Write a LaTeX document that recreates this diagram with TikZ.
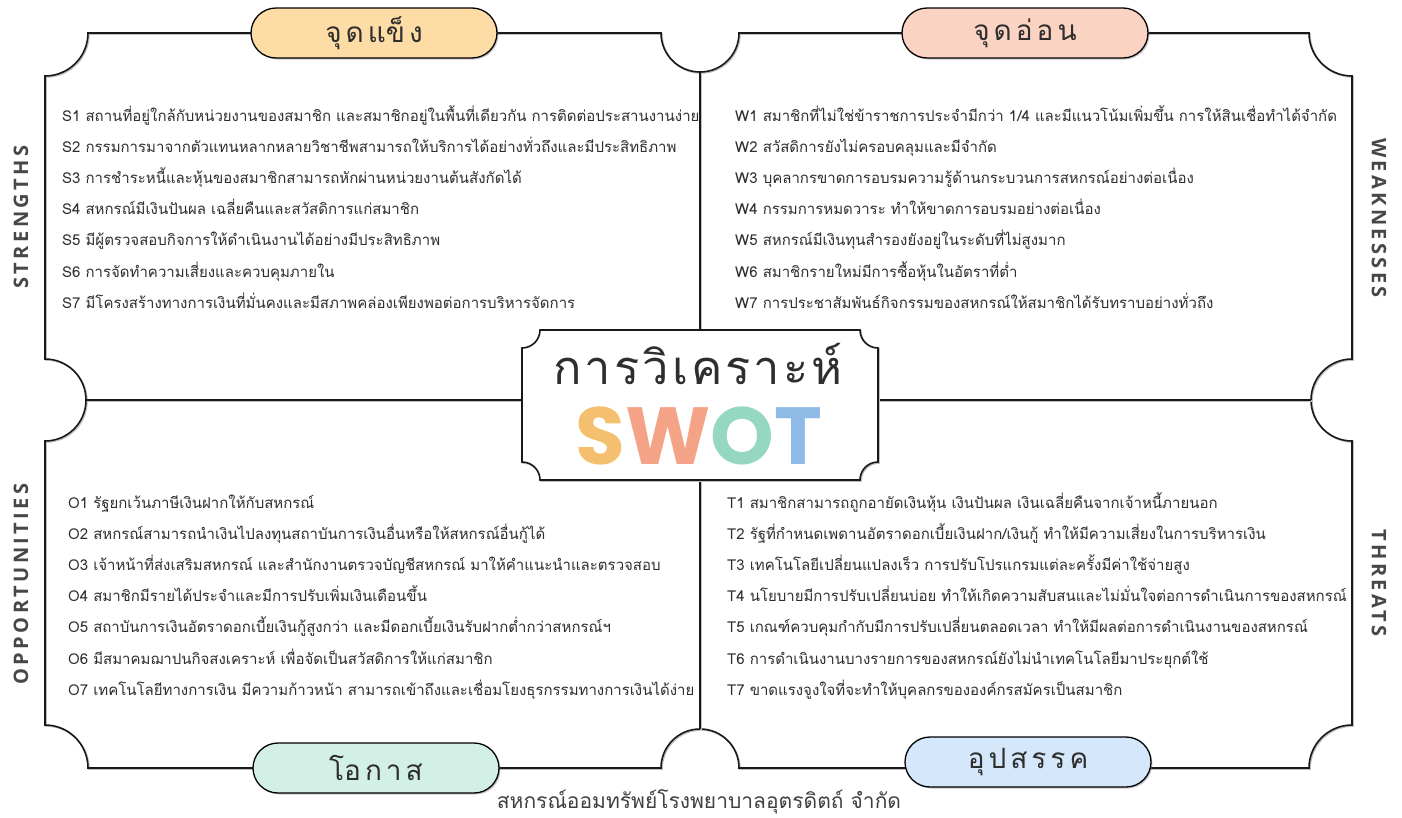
\documentclass[tikz,border=0pt]{standalone}
\usepackage{fontspec}
\setmainfont{Open Sans}
\newfontfamily\thaifont[Script=Thai]{Loma}
\newfontfamily\sidefont[LetterSpace=17]{Open Sans}
\newfontfamily\swotfont{Poppins}
\usetikzlibrary{shadows}
\definecolor{inkgray}{HTML}{2E2E2E}
\definecolor{swotS}{HTML}{F4C070}
\definecolor{swotW}{HTML}{F5A386}
\definecolor{swotO}{HTML}{96D7C2}
\definecolor{swotT}{HTML}{8DBBE5}
\definecolor{pillS}{HTML}{FDDCA6}
\definecolor{pillW}{HTML}{FBD3C3}
\definecolor{pillO}{HTML}{D2F0E5}
\definecolor{pillT}{HTML}{D4E7FB}
\newcommand\gap{\hskip 4pt}
\newcommand\titlegap{\hskip 3pt}
\tikzset{
  frameline/.style={line width=1.6pt, draw=black!90,
    preaction={draw=black!25, line width=1.6pt, transform canvas={shift={(1,1)}}}},
  pill/.style={rounded corners=25pt, draw=black, line width=1.3pt,
    minimum width=246pt, minimum height=50pt,
    drop shadow={opacity=0.45, shadow xshift=1.5pt, shadow yshift=-1.5pt},
    font=\thaifont\fontsize{28}{32}\selectfont, text=inkgray},
  sidelabel/.style={font=\sidefont\bfseries\fontsize{20}{24}\selectfont, text=black!72},
  item/.style={anchor=base west, font=\thaifont\fontsize{15}{18}\selectfont,
    text=inkgray, inner sep=0pt},
  swot/.style={font=\swotfont\bfseries\fontsize{81}{88}\selectfont, inner sep=0pt},
}
\begin{document}
\begin{tikzpicture}[x=1pt, y=-1pt]
  \useasboundingbox (0,0) rectangle (1402,817);
  % Frame
  \draw[frameline] (88,33) -- (661,33)
    arc[start angle=180, end angle=0, radius=39] -- (1309,33)
    arc[start angle=180, end angle=90, radius=43] -- (1352,359)
    arc[start angle=270, end angle=90, radius=41] -- (1352,725)
    arc[start angle=270, end angle=180, radius=43] -- (739,768)
    arc[start angle=0, end angle=-180, radius=39] -- (88,768)
    arc[start angle=0, end angle=-90, radius=43] -- (45,441)
    arc[start angle=90, end angle=-90, radius=41] -- (45,76)
    arc[start angle=90, end angle=0, radius=43] -- cycle;
  \coordinate (ntop) at (700,72);
  \coordinate (nbot) at (700,729);
  \coordinate (nleft) at (86,400);
  \coordinate (nright) at (1311,400);
  % Centre box
  \node (core) [inner sep=0pt, minimum width=356pt, minimum height=150pt] at (700,405) {};
  \draw[frameline] (ntop) -- (core.north);
  \draw[frameline] (core.south) -- (nbot);
  \draw[frameline] (nleft) -- (core.west |- nleft);
  \draw[frameline] (core.east |- nright) -- (nright);
  \draw[frameline, fill=white] (540,330) -- (860,330)
    arc[start angle=180, end angle=90, radius=18] -- (878,462)
    arc[start angle=270, end angle=180, radius=18] -- (540,480)
    arc[start angle=0, end angle=-90, radius=18] -- (522,348)
    arc[start angle=90, end angle=0, radius=18] -- cycle;
  \node (title) [font=\thaifont\fontsize{47}{52}\selectfont, text=inkgray] at (698,364)
    {ก\titlegap า\titlegap ร\titlegap วิ\titlegap เ\titlegap ค\titlegap ร\titlegap า\titlegap ะ\titlegap ห์};
  \node (swot) [swot] at (699,436)
    {\textcolor{swotS}{S}\textcolor{swotW}{W}\textcolor{swotO}{O}\textcolor{swotT}{T}};
  % Headers
  \node (hS) [pill, fill=pillS] at (374,33) {จุ\gap ด\gap แข็\gap ง};
  \node (hW) [pill, fill=pillW] at (1025,33) {จุ\gap ด\gap อ่\gap อ\gap น};
  \node (hO) [pill, fill=pillO] at (376,768) {โอ\gap ก\gap า\gap ส};
  \node (hT) [pill, fill=pillT] at (1028,762) {อุ\gap ป\gap ส\gap ร\gap ร\gap ค};
  % Side labels
  \node (lS) [sidelabel, rotate=90] at (21,217) {STRENGTHS};
  \node (lO) [sidelabel, rotate=90] at (21,584) {OPPORTUNITIES};
  \node (lW) [sidelabel, rotate=-90] at (1379,218) {WEAKNESSES};
  \node (lT) [sidelabel, rotate=-90] at (1379,583) {THREATS};
  % Items
  \foreach \t [count=\i] in {
    {S1 สถานที่อยู่ใกล้กับหน่วยงานของสมาชิก และสมาชิกอยู่ในพื้นที่เดียวกัน การติดต่อประสานงานง่าย},
    {S2 กรรมการมาจากตัวแทนหลากหลายวิชาชีพสามารถให้บริการได้อย่างทั่วถึงและมีประสิทธิภาพ},
    {S3 การชำระหนี้และหุ้นของสมาชิกสามารถหักผ่านหน่วยงานต้นสังกัดได้},
    {S4 สหกรณ์มีเงินปันผล เฉลี่ยคืนและสวัสดิการแก่สมาชิก},
    {S5 มีผู้ตรวจสอบกิจการให้ดำเนินงานได้อย่างมีประสิทธิภาพ},
    {S6 การจัดทำความเสี่ยงและควบคุมภายใน},
    {S7 มีโครงสร้างทางการเงินที่มั่นคงและมีสภาพคล่องเพียงพอต่อการบริหารจัดการ}}
    \node (s\i) [item] at (62,121+31.2*\i-31.2) {\t};
  \foreach \t [count=\i] in {
    {W1 สมาชิกที่ไม่ใช่ข้าราชการประจำมีกว่า 1/4 และมีแนวโน้มเพิ่มขึ้น การให้สินเชื่อทำได้จำกัด},
    {W2 สวัสดิการยังไม่ครอบคลุมและมีจำกัด},
    {W3 บุคลากรขาดการอบรมความรู้ด้านกระบวนการสหกรณ์อย่างต่อเนื่อง},
    {W4 กรรมการหมดวาระ ทำให้ขาดการอบรมอย่างต่อเนื่อง},
    {W5 สหกรณ์มีเงินทุนสำรองยังอยู่ในระดับที่ไม่สูงมาก},
    {W6 สมาชิกรายใหม่มีการซื้อหุ้นในอัตราที่ต่ำ},
    {W7 การประชาสัมพันธ์กิจกรรมของสหกรณ์ให้สมาชิกได้รับทราบอย่างทั่วถึง}}
    \node (w\i) [item] at (735,121+31.2*\i-31.2) {\t};
  \foreach \t [count=\i] in {
    {O1 รัฐยกเว้นภาษีเงินฝากให้กับสหกรณ์},
    {O2 สหกรณ์สามารถนำเงินไปลงทุนสถาบันการเงินอื่นหรือให้สหกรณ์อื่นกู้ได้},
    {O3 เจ้าหน้าที่ส่งเสริมสหกรณ์ และสำนักงานตรวจบัญชีสหกรณ์ มาให้คำแนะนำและตรวจสอบ},
    {O4 สมาชิกมีรายได้ประจำและมีการปรับเพิ่มเงินเดือนขึ้น},
    {O5 สถาบันการเงินอัตราดอกเบี้ยเงินกู้สูงกว่า และมีดอกเบี้ยเงินรับฝากต่ำกว่าสหกรณ์ฯ},
    {O6 มีสมาคมฌาปนกิจสงเคราะห์ เพื่อจัดเป็นสวัสดิการให้แก่สมาชิก},
    {O7 เทคโนโลยีทางการเงิน มีความก้าวหน้า สามารถเข้าถึงและเชื่อมโยงธุรกรรมทางการเงินได้ง่าย}}
    \node (o\i) [item] at (68,508+31.2*\i-31.2) {\t};
  \foreach \t [count=\i] in {
    {T1 สมาชิกสามารถถูกอายัดเงินหุ้น เงินปันผล เงินเฉลี่ยคืนจากเจ้าหนี้ภายนอก},
    {T2 รัฐที่กำหนดเพดานอัตราดอกเบี้ยเงินฝาก/เงินกู้ ทำให้มีความเสี่ยงในการบริหารเงิน},
    {T3 เทคโนโลยีเปลี่ยนแปลงเร็ว การปรับโปรแกรมแต่ละครั้งมีค่าใช้จ่ายสูง},
    {T4 นโยบายมีการปรับเปลี่ยนบ่อย ทำให้เกิดความสับสนและไม่มั่นใจต่อการดำเนินการของสหกรณ์},
    {T5 เกณฑ์ควบคุมกำกับมีการปรับเปลี่ยนตลอดเวลา ทำให้มีผลต่อการดำเนินงานของสหกรณ์},
    {T6 การดำเนินงานบางรายการของสหกรณ์ยังไม่นำเทคโนโลยีมาประยุกต์ใช้},
    {T7 ขาดแรงจูงใจที่จะทำให้บุคลกรขององค์กรสมัครเป็นสมาชิก}}
    \node (t\i) [item] at (727,508+31.2*\i-31.2) {\t};
  % Footer
  \node (footer) [font=\thaifont\fontsize{21}{24}\selectfont, text=black!75] at (699,802)
    {สหกรณ์ออมทรัพย์โรงพยาบาลอุตรดิตถ์ จำกัด};
\end{tikzpicture}
\end{document}
